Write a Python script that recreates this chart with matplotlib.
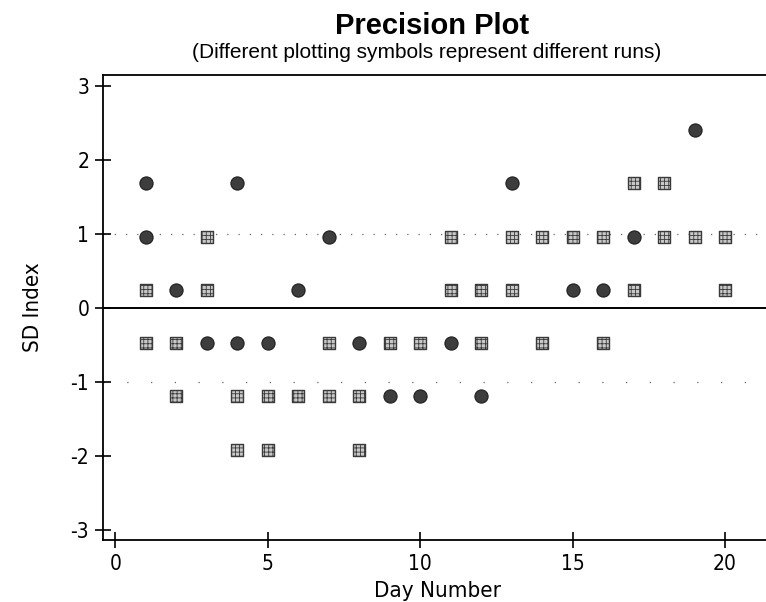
import matplotlib
matplotlib.use("Agg")
import matplotlib.pyplot as plt
from matplotlib import font_manager

# data (SD index levels per day)
circle_days = [1, 1, 2, 3, 4, 4, 5, 6, 7, 8, 9, 10, 11, 12, 13, 15, 16, 17, 19]
circle_vals = [1.68, 0.96, 0.24, -0.48, 1.68, -0.48, -0.48, 0.24, 0.96, -0.48,
               -1.20, -1.20, -0.48, -1.20, 1.68, 0.24, 0.24, 0.96, 2.40]

square_days = [1, 1, 2, 2, 3, 3, 4, 4, 5, 5, 6, 7, 7, 8, 8, 9, 10, 11, 11,
               12, 12, 13, 13, 14, 14, 15, 16, 16, 17, 17, 18, 18, 19, 20, 20]
square_vals = [0.24, -0.48, -0.48, -1.20, 0.96, 0.24, -1.20, -1.92, -1.20, -1.92,
               -1.20, -0.48, -1.20, -1.20, -1.92, -0.48, -0.48, 0.96, 0.24,
               0.24, -0.48, 0.96, 0.24, 0.96, -0.48, 0.96, 0.96, -0.48, 1.68, 0.24,
               1.68, 0.96, 0.96, 0.96, 0.24]

x_ticks = [0, 5, 10, 15, 20]
y_ticks = [-3, -2, -1, 0, 1, 2, 3]

# title font: Arial look-alike; axis text: a narrow face if one is installed
names = {f.name for f in font_manager.fontManager.ttflist}
main_font = "Liberation Sans" if "Liberation Sans" in names else "DejaVu Sans"
narrow = None
for f in font_manager.fontManager.ttflist:
    if f.style != "normal" or f.weight not in (400, "normal", "regular"):
        continue
    if "Narrow" in f.name or "Condensed" in f.name or f.stretch in ("condensed", "semi-condensed"):
        narrow = f.fname
        break
if narrow:
    lab_font = font_manager.FontProperties(fname=narrow)
    tick_size = 15
else:
    lab_font = font_manager.FontProperties(family=main_font)
    tick_size = 14

plt.rcParams["axes.unicode_minus"] = False
plt.rcParams["hatch.color"] = "#808080"
plt.rcParams["hatch.linewidth"] = 0.6

fig = plt.figure(figsize=(7.66, 6.02), dpi=100)
ax = fig.add_axes([0.1345, 0.103, 0.8916, 0.772])

ax.set_xlim(-0.4, 22)
ax.set_ylim(-3.14, 3.14)

# zero line and the faint dotted +/-1 lines
ax.axhline(0, color="black", lw=1.4, zorder=1)
ax.axhline(1, color="#666666", lw=0.9, ls=(0, (1, 8)), zorder=1)
ax.axhline(-1, color="#666666", lw=0.9, ls=(0, (1, 18)), zorder=1)

ax.scatter(square_days, square_vals, marker="s", s=75, facecolor="#c8c8c8",
           edgecolor="#3a3a3a", linewidth=1.0, hatch="++++", zorder=3)
ax.scatter(circle_days, circle_vals, marker="o", s=90, facecolor="#3d3d3d",
           edgecolor="#1e1e1e", linewidth=0.8, zorder=3)

ax.set_xticks(x_ticks)
ax.set_yticks(y_ticks)
ax.tick_params(direction="inout", length=12, width=1.2, pad=4)
for lab in ax.get_xticklabels() + ax.get_yticklabels():
    lab.set_fontproperties(lab_font)
    lab.set_fontsize(tick_size)
for sp in ax.spines.values():
    sp.set_linewidth(1.3)

ax.set_xlabel("Day Number", fontproperties=lab_font, fontsize=tick_size + 1)
ax.set_ylabel("SD Index", fontproperties=lab_font, fontsize=tick_size + 1, labelpad=20)
ax.xaxis.set_label_coords((437 - 103) / 683, -0.088)

fig.text(432 / 766, 0.957, "Precision Plot", ha="center", va="center",
         fontsize=21, fontweight="bold", family=main_font)
fig.text(427 / 766, 0.912, "(Different plotting symbols represent different runs)",
         ha="center", va="center", fontsize=15, family=main_font)

fig.savefig("out.png", dpi=100)
